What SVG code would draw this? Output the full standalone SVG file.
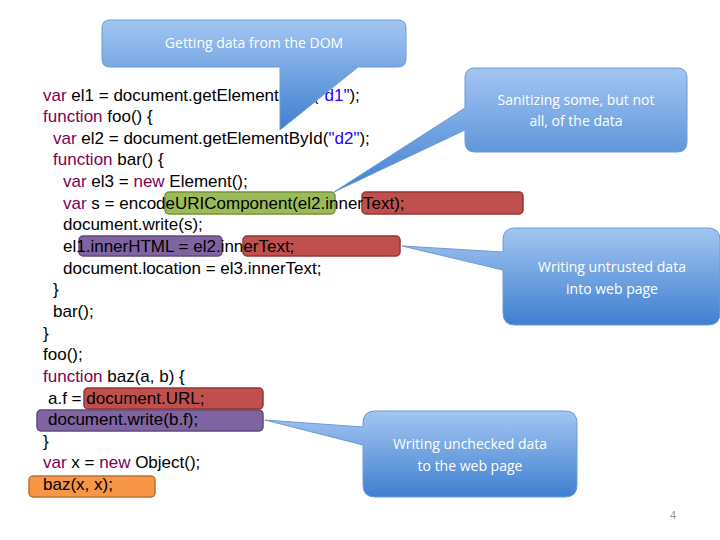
<svg xmlns="http://www.w3.org/2000/svg" width="720" height="540" viewBox="0 0 720 540">
<style>
.c{font-family:"Liberation Sans",Arial,sans-serif;font-size:17px;fill:#000}
.k{fill:#7f0055}.s{fill:#2a00ff}
.co{stroke:#6d9bd6;stroke-width:1}
.ct{font-family:"Open Sans","Liberation Sans",sans-serif;font-size:14px;fill:#fff;text-anchor:middle}
.r{fill:#c0504d;stroke:#943634;stroke-width:1.5}
.p{fill:#8064a2;stroke:#5f497a;stroke-width:1.5}
.g{fill:#9bbb59;stroke:#76923c;stroke-width:1.5}
.o{fill:#f79646;stroke:#c0712c;stroke-width:1.5}
</style>
<defs>
<linearGradient id="bg" x1="0" y1="0" x2="0" y2="1">
<stop offset="0" stop-color="#a3c6f2"/><stop offset="1" stop-color="#3f7fd0"/>
</linearGradient>
</defs>
<rect width="720" height="540" fill="#fff"/>
<g id="highlights">
<rect class="g" x="165" y="192" width="170" height="22" rx="4"/>
<rect class="r" x="362" y="192" width="161" height="22" rx="4"/>
<rect class="p" x="79" y="236" width="143" height="20" rx="4"/>
<rect class="r" x="243" y="236" width="157" height="20" rx="4"/>
<rect class="r" x="84" y="388" width="179" height="21" rx="4"/>
<rect class="p" x="37" y="410" width="226" height="21" rx="4"/>
<rect class="o" x="29" y="476" width="126" height="21" rx="4"/>
</g>
<g id="code">
<text class="c" x="43" y="101"><tspan class="k">var</tspan> el1 = document.getElementById(<tspan class="s">"d1"</tspan>);</text>
<text class="c" x="43" y="122"><tspan class="k">function</tspan> foo() {</text>
<text class="c" x="53" y="144"><tspan class="k">var</tspan> el2 = document.getElementById(<tspan class="s">"d2"</tspan>);</text>
<text class="c" x="53" y="165"><tspan class="k">function</tspan> bar() {</text>
<text class="c" x="63" y="187"><tspan class="k">var</tspan> el3 = <tspan class="k">new</tspan> Element();</text>
<text class="c" x="63" y="209"><tspan class="k">var</tspan> s = encodeURIComponent(el2.innerText);</text>
<text class="c" x="63" y="230">document.write(s);</text>
<text class="c" x="63" y="252">el1.innerHTML = el2.innerText;</text>
<text class="c" x="63" y="274">document.location = el3.innerText;</text>
<text class="c" x="53" y="295">}</text>
<text class="c" x="53" y="317">bar();</text>
<text class="c" x="43" y="339">}</text>
<text class="c" x="43" y="360">foo();</text>
<text class="c" x="43" y="382"><tspan class="k">function</tspan> baz(a, b) {</text>
<text class="c" x="48" y="404">a.f = document.URL;</text>
<text class="c" x="48" y="425">document.write(b.f);</text>
<text class="c" x="43" y="447">}</text>
<text class="c" x="43" y="468"><tspan class="k">var</tspan> x = <tspan class="k">new</tspan> Object();</text>
<text class="c" x="43" y="490">baz(x, x);</text>
</g>
<g id="connectors"></g>
<g id="callout-dom">
<path class="co" fill="url(#bg)" d="M110,20 H398 Q406,20 406,28 V59 Q406,67 398,67 H358 L280,130 L280,67 H110 Q102,67 102,59 V28 Q102,20 110,20 Z"/>
<text class="ct" x="254" y="48">Getting data from the DOM</text>
</g>
<g id="callout-sanitize">
<path class="co" fill="url(#bg)" d="M475,68 H677 Q687,68 687,78 V142 Q687,152 677,152 H475 Q465,152 465,142 V130 L334,192 L465,108 V78 Q465,68 475,68 Z"/>
<text class="ct" x="576" y="105">Sanitizing some, but not</text>
<text class="ct" x="576" y="126">all, of the data</text>
</g>
<g id="callout-untrusted">
<path class="co" fill="url(#bg)" d="M515,228 H708 Q720,228 720,240 V313 Q720,325 708,325 H515 Q503,325 503,313 V270 L402,246 L503,252 V240 Q503,228 515,228 Z"/>
<text class="ct" x="612" y="272">Writing untrusted data</text>
<text class="ct" x="612" y="294">into web page</text>
</g>
<g id="callout-unchecked">
<path class="co" fill="url(#bg)" d="M375,411 H565 Q577,411 577,423 V485 Q577,497 565,497 H375 Q363,497 363,485 V445 L265,420 L363,427 V423 Q363,411 375,411 Z"/>
<text class="ct" x="470" y="449">Writing unchecked data</text>
<text class="ct" x="470" y="471">to the web page</text>
</g>
<text x="673" y="519" font-family="Open Sans,Liberation Sans,sans-serif" font-size="10" fill="#888" text-anchor="middle">4</text>
</svg>
